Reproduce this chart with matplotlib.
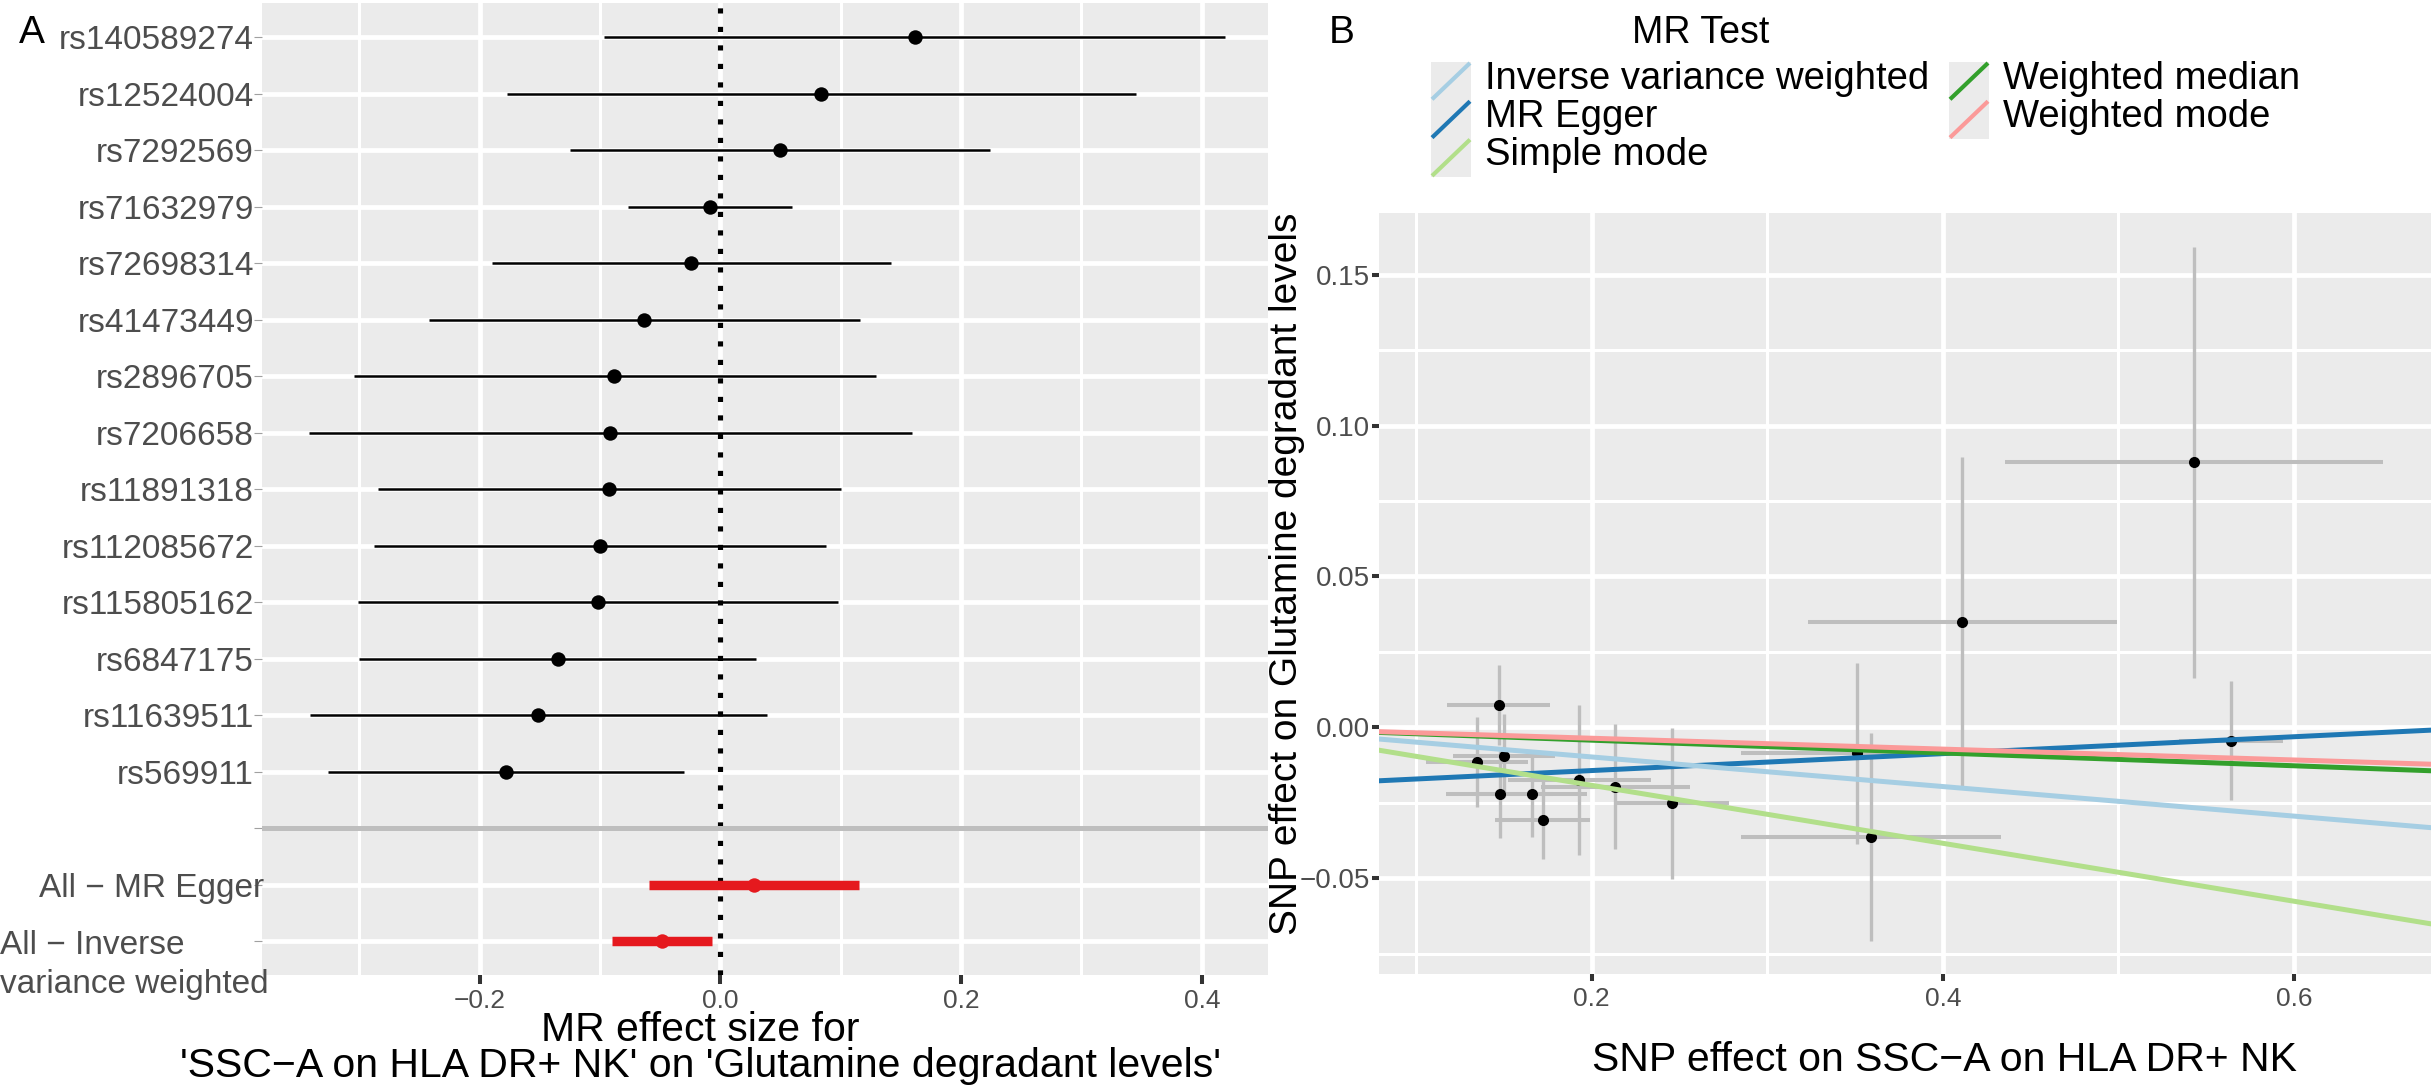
import matplotlib
matplotlib.use("Agg")
import matplotlib.pyplot as plt
from matplotlib.patches import Rectangle
from matplotlib.ticker import FixedLocator
from matplotlib.transforms import blended_transform_factory
import numpy as np

plt.rcParams['font.family'] = ['Liberation Sans', 'DejaVu Sans']

# ---------------- Panel A: forest plot data (top to bottom) ----------------
snp_labels = ["rs140589274", "rs12524004", "rs7292569", "rs71632979", "rs72698314",
              "rs41473449", "rs2896705", "rs7206658", "rs11891318", "rs112085672",
              "rs115805162", "rs6847175", "rs11639511", "rs569911"]
snp_b = [0.1614, 0.0839, 0.0493, -0.0087, -0.0241, -0.0632, -0.0884,
         -0.0922, -0.0929, -0.1000, -0.1020, -0.1350, -0.1515, -0.1785]
snp_lo = [-0.0964, -0.1770, -0.1250, -0.0765, -0.1900, -0.2425, -0.3046,
          -0.3420, -0.2846, -0.2880, -0.3010, -0.3000, -0.3410, -0.3260]
snp_hi = [0.4190, 0.3450, 0.2240, 0.0597, 0.1420, 0.1160, 0.1290,
          0.1590, 0.0999, 0.0874, 0.0975, 0.0294, 0.0384, -0.0304]

summary_labels = ["All \u2212 MR Egger", "All \u2212 Inverse\nvariance weighted"]
summary_b = [0.0280, -0.0490]
summary_lo = [-0.0594, -0.0902]
summary_hi = [0.1153, -0.0072]

forest_xticks = [-0.2, 0.0, 0.2, 0.4]
forest_xticklabels = ["\u22120.2", "0.0", "0.2", "0.4"]
forest_xminor = [-0.3, -0.1, 0.1, 0.3]

# ---------------- Panel B: scatter plot data (same SNP order) ----------------
bx = [0.543, 0.411, 0.147, 0.564, 0.351, 0.150, 0.1348, 0.193, 0.2133,
      0.359, 0.2458, 0.166, 0.1475, 0.172]
by = [0.0878, 0.0348, 0.0074, -0.0044, -0.0086, -0.0094, -0.0116, -0.0175,
      -0.0196, -0.0363, -0.0251, -0.0222, -0.0222, -0.0306]
se_by = [0.0715, 0.0547, 0.0131, 0.0196, 0.0300, 0.0137, 0.0149, 0.0248,
         0.0208, 0.0344, 0.0250, 0.0140, 0.0144, 0.0129]
se_bx = [0.1075, 0.0880, 0.0293, 0.0295, 0.0660, 0.0290, 0.0290, 0.0405,
         0.0425, 0.0740, 0.0322, 0.0310, 0.0305, 0.0272]

method_names = ["MR Egger", "Weighted median", "Inverse variance weighted",
                "Simple mode", "Weighted mode"]
method_slope = [0.0280, -0.0212, -0.0490, -0.0960, -0.0180]
method_intercept = [-0.0199, 0.0, 0.0, 0.0, 0.0]
legend_order = ["Inverse variance weighted", "MR Egger", "Simple mode",
                "Weighted median", "Weighted mode"]
method_colors = {"Inverse variance weighted": "#A6CEE3", "MR Egger": "#1F78B4",
                 "Simple mode": "#B2DF8A", "Weighted median": "#33A02C",
                 "Weighted mode": "#FB9A99"}

scatter_xticks = [0.2, 0.4, 0.6]
scatter_xticklabels = ["0.2", "0.4", "0.6"]
scatter_xminor = [0.1, 0.3, 0.5]
scatter_yticks = [-0.05, 0.0, 0.05, 0.10, 0.15]
scatter_yticklabels = ["\u22120.05", "0.00", "0.05", "0.10", "0.15"]
scatter_yminor = [-0.075, -0.025, 0.025, 0.075, 0.125]

# ---------------- figure ----------------
W, H = 2433, 1087
fig = plt.figure(figsize=(W / 100, H / 100), dpi=100)


def fx(x):
    return x / W


def fy(y):
    return 1 - y / H


PANEL = "#EBEBEB"
GREY = "#BEBEBE"
RED = "#E5191E"
TXT = "#4D4D4D"

# ---- Panel A ----
axA = fig.add_axes([fx(262), fy(975), (1268 - 262) / W, (975 - 3.3) / H])
axA.set_facecolor(PANEL)
for s in axA.spines.values():
    s.set_visible(False)

n = len(snp_labels)
ypos_snp = np.arange(n)[::-1] + 4          # 17 .. 4
sep_y = 3
ypos_sum = [2, 1]

axA.axvline(0, color="black", lw=3.7, ls=(0, (1.0, 2.6)), zorder=2)
axA.hlines(ypos_snp, snp_lo, snp_hi, color="black", lw=1.8, zorder=3)
axA.plot(snp_b, ypos_snp, "o", color="black", ms=10.4, mew=0, zorder=4)
axA.hlines(ypos_sum, summary_lo, summary_hi, color=RED, lw=6.8, zorder=3)
axA.plot(summary_b, ypos_sum, "o", color=RED, ms=10.4, mew=0, zorder=4)
axA.axhline(sep_y, color=GREY, lw=3.6, zorder=5)

axA.set_xlim(-0.381, 0.455)
axA.set_ylim(0.4, 17.6)
axA.set_xticks(forest_xticks, forest_xticklabels)
axA.xaxis.set_minor_locator(FixedLocator(forest_xminor))
axA.set_yticks(list(ypos_snp) + [sep_y] + ypos_sum,
               snp_labels + ["", "", ""])
axA.grid(which="major", color="white", lw=3.4)
axA.grid(which="minor", axis="x", color="white", lw=2.2)
axA.set_axisbelow(True)
axA.tick_params(axis="x", which="major", length=6.2, width=2.9, color="#333333",
                labelsize=19, labelcolor=TXT, pad=4)
axA.tick_params(axis="y", which="major", length=5.8, width=0.8, color="#A0A0A0",
                labelsize=24, labelcolor=TXT, pad=0)
axA.tick_params(which="minor", length=0)

# summary labels (extend slightly into the panel, as in the reference)
tr = blended_transform_factory(fig.transFigure, axA.transData)
axA.text(fx(264), ypos_sum[0], summary_labels[0], transform=tr, ha="right",
         va="center_baseline", fontsize=24, color=TXT, clip_on=False)
fig.text(fx(269), fy(993), summary_labels[1], ha="right", va="baseline",
         multialignment="left", fontsize=24, color=TXT, linespacing=1.32)

fig.text(fx(700), fy(1076.7),
         "MR effect size for\n'SSC\u2212A on HLA DR+ NK' on 'Glutamine degradant levels'",
         ha="center", va="baseline", fontsize=29.5, color="black", linespacing=0.916)

# ---- Panel B ----
axB = fig.add_axes([fx(1379), fy(974), (2431 - 1379) / W, (974 - 213) / H])
axB.set_facecolor(PANEL)
for s in axB.spines.values():
    s.set_visible(False)

axB.errorbar(bx, by, yerr=se_by, fmt="none", ecolor=GREY, elinewidth=2.4,
             capsize=0, zorder=2)
axB.errorbar(bx, by, xerr=se_bx, fmt="none", ecolor=GREY, elinewidth=2.9,
             capsize=0, zorder=2)
axB.plot(bx, by, "o", color="black", ms=8, mew=0, zorder=3)
for name, sl, ic in zip(method_names, method_slope, method_intercept):
    axB.axline((0, ic), slope=sl, color=method_colors[name], lw=3.6, zorder=4)

axB.set_xlim(0.0788, 0.678)
axB.set_ylim(-0.0817, 0.1704)
axB.set_xticks(scatter_xticks, scatter_xticklabels)
axB.set_yticks(scatter_yticks, scatter_yticklabels)
axB.xaxis.set_minor_locator(FixedLocator(scatter_xminor))
axB.yaxis.set_minor_locator(FixedLocator(scatter_yminor))
axB.grid(which="major", color="white", lw=3.4)
axB.grid(which="minor", color="white", lw=2.2)
axB.set_axisbelow(True)
axB.tick_params(axis="both", which="major", length=5, width=2.9, color="#333333",
                labelcolor=TXT)
axB.tick_params(axis="x", which="major", labelsize=19, pad=4)
axB.tick_params(axis="y", which="major", labelsize=20, pad=1.5)
axB.tick_params(which="minor", length=0)

fig.text(fx(1287), fy(574), "SNP effect on Glutamine degradant levels",
         rotation=90, ha="center", va="center", fontsize=28, color="black")
fig.text(fx(1944), fy(1071.4), "SNP effect on SSC\u2212A on HLA DR+ NK",
         ha="center", va="baseline", fontsize=29.5, color="black")

# ---- legend (keys drawn in a small overlay axes, pixel units) ----
lax = fig.add_axes([fx(1420), fy(185), 880 / W, 130 / H])
lax.set_xlim(1420, 2300)
lax.set_ylim(185, 55)
lax.axis("off")
col_x = [1431, 1949]
row_top = 62
key_w, key_h = 40, 38.3
for k, name in enumerate(legend_order):
    c, r = divmod(k, 3)
    x0 = col_x[c]
    y0 = row_top + r * key_h
    lax.add_patch(Rectangle((x0, y0), key_w, key_h, facecolor=PANEL,
                            edgecolor="none"))
    lax.plot([x0 + 1, x0 + key_w - 1], [y0 + key_h - 1, y0 + 1],
             color=method_colors[name], lw=3, solid_capstyle="butt")
    lax.text(x0 + key_w + 14, y0 + key_h / 2 + 7.5, name, fontsize=27.5,
             ha="left", va="baseline", color="black")

fig.text(fx(1632), fy(43), "MR Test", ha="left", va="baseline", fontsize=27,
         color="black")
fig.text(fx(19), fy(43), "A", ha="left", va="baseline", fontsize=28, color="black")
fig.text(fx(1329), fy(43), "B", ha="left", va="baseline", fontsize=28, color="black")

fig.savefig("out.png", dpi=100)
